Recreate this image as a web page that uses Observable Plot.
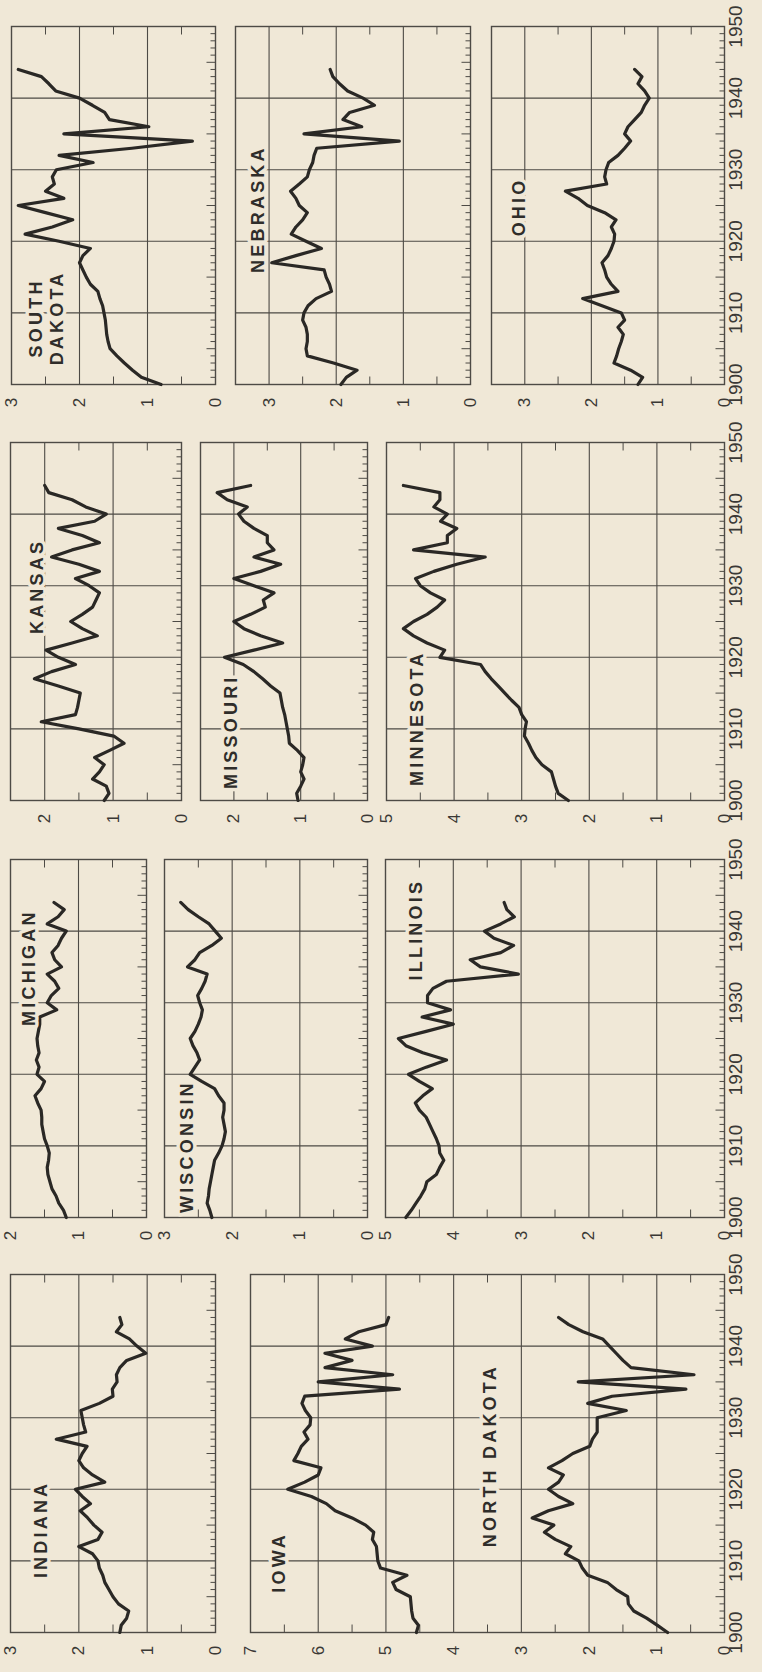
<!DOCTYPE html>
<html>
<head>
<meta charset="utf-8">
<script src="https://cdn.jsdelivr.net/npm/d3@7"></script>
<script src="https://cdn.jsdelivr.net/npm/@observablehq/plot@0.6"></script>
<style>
html, body { margin: 0; padding: 0; background: #f0e8d7; }
#page { position: relative; width: 762px; height: 1672px; overflow: hidden; background: #f0e8d7; }
#chart { position: absolute; left: 0; top: 0; width: 1672px; height: 762px;
  transform-origin: 0 0; transform: translate(0px, 1672px) rotate(-90deg); }
.panel { position: absolute; }
.panel svg { overflow: visible; }
</style>
</head>
<body>
<div id="page"><div id="chart"></div></div>
<script>
// ---------- data ----------
const years = [1900,1901,1902,1903,1904,1905,1906,1907,1908,1909,
  1910,1911,1912,1913,1914,1915,1916,1917,1918,1919,
  1920,1921,1922,1923,1924,1925,1926,1927,1928,1929,
  1930,1931,1932,1933,1934,1935,1936,1937,1938,1939,
  1940,1941,1942,1943,1944];

const indiana = [1.40,1.38,1.30,1.27,1.42,1.50,1.56,1.62,1.65,1.70,
  1.72,1.80,2.00,1.72,1.66,1.78,1.87,1.98,1.83,1.95,
  2.05,1.62,1.80,1.93,2.00,1.95,1.88,2.33,1.90,1.93,
  1.95,1.97,1.70,1.50,1.51,1.44,1.45,1.40,1.30,1.02,
  1.15,1.26,1.45,1.37,1.40];
const iowa = [4.55,4.52,4.60,4.62,4.63,4.64,4.85,4.90,4.69,5.08,
  5.12,5.13,5.14,5.20,5.18,5.30,5.50,5.75,5.88,6.10,
  6.45,6.20,6.00,5.96,6.36,6.30,6.25,6.15,6.21,6.12,
  6.11,6.19,6.24,6.20,4.80,6.00,4.90,5.90,5.50,5.90,
  5.20,5.60,5.40,5.00,4.96];
const northDakota = [0.84,0.99,1.15,1.34,1.42,1.43,1.60,1.73,2.02,2.10,
  2.15,2.35,2.27,2.50,2.66,2.52,2.84,2.60,2.24,2.45,
  2.60,2.45,2.38,2.60,2.40,2.24,1.99,1.95,1.88,1.88,
  1.88,1.45,2.02,1.66,0.57,2.16,0.45,1.38,1.50,1.60,
  1.70,1.80,2.09,2.30,2.45];
const michigan = [1.18,1.22,1.29,1.33,1.39,1.42,1.45,1.46,1.44,1.43,
  1.46,1.50,1.52,1.54,1.54,1.55,1.60,1.64,1.55,1.50,
  1.61,1.58,1.62,1.58,1.60,1.61,1.59,1.57,1.57,1.32,
  1.46,1.40,1.29,1.35,1.46,1.25,1.35,1.39,1.30,1.25,
  1.18,1.46,1.30,1.21,1.36];
const wisconsin = [2.30,2.33,2.37,2.35,2.34,2.32,2.30,2.28,2.26,2.20,
  2.15,2.12,2.10,2.12,2.14,2.12,2.12,2.20,2.26,2.45,
  2.62,2.55,2.48,2.52,2.58,2.62,2.55,2.50,2.46,2.44,
  2.48,2.51,2.45,2.40,2.37,2.66,2.55,2.48,2.30,2.16,
  2.25,2.34,2.50,2.65,2.76];
const illinois = [4.70,4.62,4.55,4.48,4.42,4.39,4.25,4.20,4.14,4.20,
  4.21,4.25,4.30,4.35,4.40,4.50,4.56,4.45,4.31,4.50,
  4.66,4.40,4.10,4.45,4.70,4.81,4.40,4.00,4.46,4.04,
  4.38,4.38,4.30,4.10,3.04,3.60,3.75,3.30,3.11,3.40,
  3.54,3.30,3.10,3.21,3.25];
const kansas = [1.13,1.06,1.10,1.30,1.20,1.13,1.27,1.05,0.84,0.99,
  1.50,2.05,1.55,1.52,1.50,1.48,1.80,2.15,1.90,1.55,
  1.80,1.98,1.60,1.23,1.45,1.62,1.45,1.30,1.25,1.20,
  1.35,1.55,1.20,1.50,1.90,1.60,1.20,1.45,1.80,1.27,
  1.10,1.40,1.60,1.94,2.00];
const missouri = [1.04,1.06,1.00,0.95,1.00,0.97,0.95,1.05,1.17,1.18,
  1.20,1.22,1.24,1.27,1.29,1.31,1.45,1.57,1.70,1.86,
  2.14,1.70,1.27,1.60,1.85,2.00,1.75,1.53,1.56,1.40,
  1.70,2.00,1.60,1.30,1.70,1.40,1.50,1.50,1.70,1.85,
  1.93,1.80,2.10,2.25,1.75];
const minnesota = [2.31,2.46,2.50,2.53,2.56,2.70,2.79,2.85,2.90,2.96,
  2.95,2.93,3.00,3.04,3.15,3.25,3.35,3.45,3.54,3.61,
  4.21,4.14,4.40,4.60,4.75,4.60,4.40,4.25,4.14,4.35,
  4.50,4.57,4.30,3.96,3.54,4.60,4.10,4.10,3.96,4.20,
  4.10,4.30,4.21,4.21,4.75];
const southDakota = [0.80,1.09,1.22,1.34,1.45,1.55,1.58,1.60,1.61,1.62,
  1.64,1.66,1.70,1.73,1.84,1.90,1.95,2.00,1.95,1.84,
  2.30,2.80,2.40,2.10,2.50,2.90,2.23,2.50,2.37,2.40,
  2.34,1.80,2.30,1.23,0.34,2.23,0.98,1.56,1.63,1.81,
  2.00,2.35,2.45,2.56,2.90];
const nebraska = [1.93,1.85,1.69,2.04,2.43,2.45,2.43,2.43,2.45,2.50,
  2.48,2.42,2.30,2.07,2.10,2.15,2.18,2.96,2.60,2.22,
  2.45,2.67,2.60,2.50,2.43,2.55,2.60,2.68,2.55,2.43,
  2.40,2.35,2.33,2.29,1.06,2.48,1.62,1.90,1.80,1.43,
  1.60,1.83,1.95,2.05,2.09];
const ohio = [1.30,1.23,1.41,1.66,1.62,1.59,1.55,1.52,1.60,1.50,
  1.55,1.84,2.13,1.60,1.70,1.77,1.80,1.84,1.75,1.70,
  1.66,1.65,1.70,1.63,1.80,2.06,2.20,2.39,1.77,1.80,
  1.78,1.74,1.60,1.50,1.41,1.50,1.45,1.35,1.25,1.20,
  1.13,1.20,1.30,1.24,1.35];

const yearTickLabels = [1900, 1910, 1920, 1930, 1940, 1950];

// ---------- layout / style ----------
const BG = "#f0e8d7", INK = "#2a2825", GRID = "#4d4a45";
const FONT = "'Liberation Sans', Arial, sans-serif";
const mL = 44, mR = 8, mT = 8, mB = 36;
const PANEL_W = 358;

const panels = [
  {left: 39, top: 10, bottom: 215, max: 3, series: [indiana], yearAxis: false,
   labels: [{text: "INDIANA", year: 1914.4, value: 2.56}]},
  {left: 39, top: 250, bottom: 724, max: 7, series: [iowa, northDakota], yearAxis: true,
   labels: [{text: "IOWA", year: 1909.8, value: 6.6}, {text: "NORTH DAKOTA", year: 1924.7, value: 3.47}]},
  {left: 454, top: 10, bottom: 146, max: 2, series: [michigan], yearAxis: false,
   labels: [{text: "MICHIGAN", year: 1934.9, value: 1.74}]},
  {left: 454, top: 164, bottom: 367, max: 3, series: [wisconsin], yearAxis: false,
   labels: [{text: "WISCONSIN", year: 1909.9, value: 2.68}]},
  {left: 454, top: 385, bottom: 724, max: 5, series: [illinois], yearAxis: true,
   labels: [{text: "ILLINOIS", year: 1940.2, value: 4.56}]},
  {left: 871, top: 10, bottom: 181, max: 2.5, series: [kansas], yearAxis: false,
   labels: [{text: "KANSAS", year: 1929.9, value: 2.12}]},
  {left: 871, top: 200, bottom: 367, max: 2.5, series: [missouri], yearAxis: false,
   labels: [{text: "MISSOURI", year: 1909.6, value: 2.06}]},
  {left: 871, top: 386, bottom: 724, max: 5, series: [minnesota], yearAxis: true,
   labels: [{text: "MINNESOTA", year: 1911.5, value: 4.56}]},
  {left: 1287, top: 11, bottom: 215, max: 3, series: [southDakota], yearAxis: false,
   labels: [{text: "SOUTH\nDAKOTA", year: 1909.3, value: 2.5}]},
  {left: 1287, top: 235, bottom: 470, max: 3.5, series: [nebraska], yearAxis: false,
   labels: [{text: "NEBRASKA", year: 1924.5, value: 3.18}]},
  {left: 1287, top: 491, bottom: 724, max: 3.5, series: [ohio], yearAxis: true,
   labels: [{text: "OHIO", year: 1924.8, value: 3.1}]}
];

// small inward tick drawn as a custom dot symbol
const tickSymbol = (dx, dy) => ({draw(ctx) { ctx.moveTo(0, 0); ctx.lineTo(dx, dy); }});

const chart = document.getElementById("chart");

for (const p of panels) {
  const ints = d3.range(0, Math.floor(p.max) + 1);
  const innerInts = ints.filter(v => v > 0 && v < p.max);
  const halves = d3.range(0.5, p.max, 1);
  const allYears = d3.range(1901, 1950).filter(y => y % 5 !== 0);
  const fiveYears = [1905, 1915, 1925, 1935, 1945];
  const innerDecades = [1910, 1920, 1930, 1940];

  const marks = [
    Plot.ruleX(innerDecades, {stroke: GRID, strokeWidth: 1.1}),
    Plot.ruleY(innerInts, {stroke: GRID, strokeWidth: 1.1}),
    Plot.frame({stroke: GRID, strokeWidth: 1.4}),
    Plot.dot(allYears, {x: d => d, frameAnchor: "bottom", symbol: tickSymbol(0, -5), fill: "none", stroke: GRID, strokeWidth: 1}),
    Plot.dot(fiveYears, {x: d => d, frameAnchor: "bottom", symbol: tickSymbol(0, -9), fill: "none", stroke: GRID, strokeWidth: 1}),
    Plot.dot(halves, {y: d => d, frameAnchor: "left", symbol: tickSymbol(8, 0), fill: "none", stroke: GRID, strokeWidth: 1}),
    Plot.dot(halves, {y: d => d, frameAnchor: "right", symbol: tickSymbol(-8, 0), fill: "none", stroke: GRID, strokeWidth: 1}),
    Plot.text(ints, {y: d => d, frameAnchor: "left", dx: -18, text: d => String(d), textAnchor: "middle",
      fontSize: 17, fill: "#3a3835"}),
    ...p.series.map(vals => Plot.line(years.map((yr, i) => ({year: yr, value: vals[i]})),
      {x: "year", y: "value", stroke: INK, strokeWidth: 3.2, strokeLinejoin: "round", strokeLinecap: "round"})),
    Plot.text(p.labels, {x: "year", y: "value", text: "text", textAnchor: "middle",
      fontSize: 18, fontWeight: "bold", fill: "#2f2d2a", stroke: BG, strokeWidth: 7, lineHeight: 1.2})
  ];
  if (p.yearAxis) {
    marks.push(Plot.text(yearTickLabels, {x: d => d, frameAnchor: "bottom", dy: 17, text: d => String(d),
      fontSize: 19, fill: "#3a3835"}));
  }

  const svg = Plot.plot({
    width: PANEL_W + mL + mR,
    height: (p.bottom - p.top) + mT + mB,
    marginLeft: mL, marginRight: mR, marginTop: mT, marginBottom: mB,
    style: {background: "transparent", fontFamily: FONT, overflow: "visible"},
    x: {domain: [1900, 1950], axis: null},
    y: {domain: [0, p.max], axis: null},
    marks
  });
  // letter-spaced state names (the only upper-case texts)
  svg.querySelectorAll("text").forEach(t => {
    if (/^[A-Z]/.test(t.textContent)) t.style.letterSpacing = "3.2px";
  });
  const div = document.createElement("div");
  div.className = "panel";
  div.style.left = (p.left - mL) + "px";
  div.style.top = (p.top - mT) + "px";
  div.appendChild(svg);
  chart.appendChild(div);
}
</script>
</body>
</html>
